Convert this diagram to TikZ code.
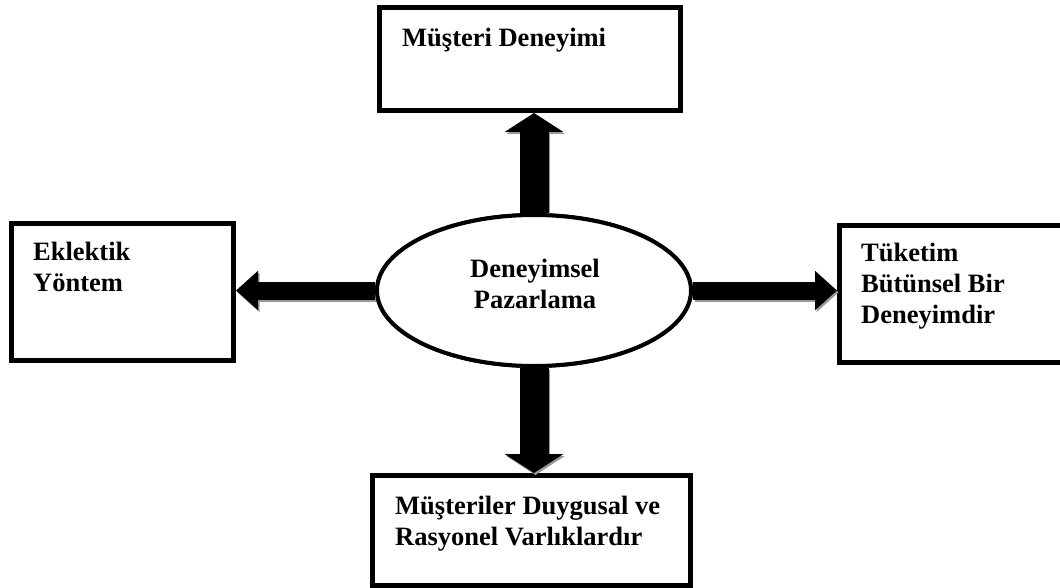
\documentclass[tikz,border=0pt]{standalone}
\usepackage{fontspec}
\setmainfont{Liberation Serif}
\usetikzlibrary{arrows.meta,shapes.geometric,calc}
\begin{document}
\begin{tikzpicture}[x=1pt,y=-1pt,
  box/.style={draw=black,line width=5pt,fill=white,rectangle,inner sep=0pt},
  ell/.style={draw=black,line width=4pt,fill=white,ellipse,inner sep=0pt,minimum width=314pt,minimum height=151pt},
  lbl/.style={font=\fontsize{26.5}{31}\selectfont\bfseries,inner sep=0pt,align=left,anchor=base west},
  clbl/.style={font=\fontsize{26.5}{31}\selectfont\bfseries,inner sep=0pt,align=center,anchor=base},
  harrow/.style={line width=18pt,-{Triangle[length=22pt,width=38pt]}},
  varrow/.style={line width=29pt,-{Triangle[length=19pt,width=58pt]}},
  shad/.style={draw=black!40,transform canvas={shift={(1.5pt,-2pt)}}}
]
\useasboundingbox (0,0) rectangle (1060,588);
\node[box,minimum width=301pt,minimum height=103pt] (top) at (530,59) {};
\node[box,minimum width=222pt,minimum height=137pt] (left) at (122.5,292) {};
\node[box,minimum width=228pt,minimum height=137pt] (right) at (953.5,294) {};
\node[box,minimum width=318pt,minimum height=110pt] (bottom) at (531.5,530.5) {};
\node[ell] (ell) at (534,290.5) {};
\coordinate (ctop) at (ell.north |- top.south);
\coordinate (cleft) at (ell.west -| left.east);
\coordinate (cright) at (ell.east -| right.west);
\coordinate (cbot) at (ell.south |- bottom.north);
% shadows
\draw[varrow,shad] (ell.north) -- (ctop);
\draw[harrow,shad] (ell.west) -- (cleft);
\draw[harrow,shad] (ell.east) -- (cright);
\draw[varrow,shad] (ell.south) -- (cbot);
% arrows
\draw[varrow] (ell.north) -- (ctop);
\draw[harrow] (ell.west) -- (cleft);
\draw[harrow] (ell.east) -- (cright);
\draw[varrow] (ell.south) -- (cbot);
\node[ell] (ell2) at (ell.center) {};
% labels
\node[lbl] (ttop) at (402,47) {Müşteri Deneyimi};
\node[lbl] (tleft) at (33,291) {Eklektik\\Yöntem};
\node[lbl] (tright) at (861,323) {Tüketim\\Bütünsel Bir\\Deneyimdir};
\node[lbl] (tbot) at (395,545) {Müşteriler Duygusal ve\\Rasyonel Varlıklardır};
\node[clbl] (tell) at (535,308) {Deneyimsel\\Pazarlama};
\end{tikzpicture}
\end{document}
